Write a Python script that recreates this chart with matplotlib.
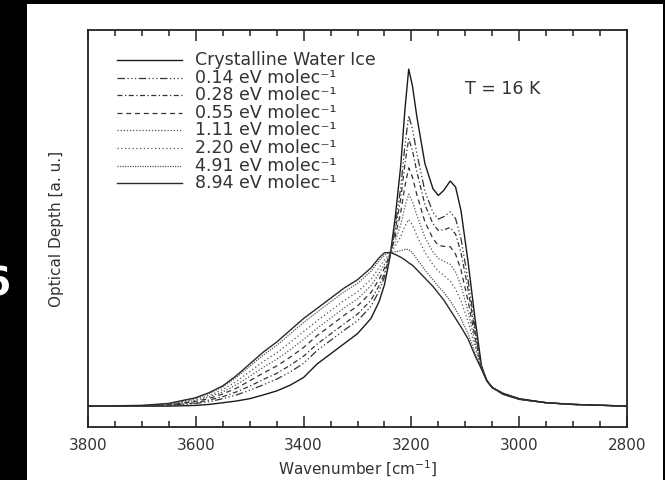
import matplotlib
matplotlib.use("Agg")
import matplotlib.pyplot as plt
from matplotlib.patches import Rectangle
from matplotlib.ticker import MultipleLocator

# wavenumber grid (cm^-1) the curves were read at
wavenumber = [3800, 3700, 3650, 3600, 3575, 3550, 3525, 3500, 3475, 3450, 3425, 3400,
              3375, 3350, 3325, 3300, 3275, 3260, 3250, 3240, 3230, 3220, 3212, 3205,
              3198, 3190, 3175, 3160, 3150, 3140, 3128, 3118, 3108, 3095, 3082, 3070,
              3060, 3050, 3030, 3000, 2950, 2900, 2800]

crystalline = [0.000, 0.000, 0.000, 0.002, 0.005, 0.010, 0.015, 0.022, 0.033, 0.045, 0.062, 0.085,
               0.125, 0.155, 0.185, 0.215, 0.260, 0.310, 0.360, 0.440, 0.560, 0.710, 0.880, 1.000,
               0.950, 0.860, 0.720, 0.645, 0.625, 0.640, 0.668, 0.650, 0.580, 0.430, 0.260, 0.120,
               0.075, 0.055, 0.035, 0.020, 0.010, 0.005, 0.000]
dose_014 = [0.000, 0.000, 0.002, 0.008, 0.013, 0.022, 0.033, 0.047, 0.063, 0.080, 0.101, 0.127,
            0.165, 0.195, 0.225, 0.253, 0.296, 0.341, 0.383, 0.444, 0.534, 0.646, 0.773, 0.862,
            0.822, 0.751, 0.638, 0.575, 0.555, 0.562, 0.576, 0.556, 0.497, 0.375, 0.234, 0.118,
            0.075, 0.055, 0.036, 0.020, 0.010, 0.005, 0.000]
dose_028 = [0.000, 0.001, 0.003, 0.010, 0.018, 0.028, 0.042, 0.059, 0.079, 0.097, 0.121, 0.148,
            0.184, 0.214, 0.244, 0.273, 0.314, 0.357, 0.394, 0.446, 0.520, 0.614, 0.719, 0.793,
            0.758, 0.696, 0.598, 0.541, 0.521, 0.523, 0.530, 0.510, 0.456, 0.347, 0.220, 0.116,
            0.075, 0.055, 0.036, 0.021, 0.010, 0.005, 0.000]
dose_055 = [0.000, 0.001, 0.004, 0.014, 0.023, 0.036, 0.053, 0.075, 0.098, 0.119, 0.145, 0.174,
            0.209, 0.239, 0.269, 0.297, 0.337, 0.376, 0.409, 0.448, 0.504, 0.573, 0.653, 0.707,
            0.679, 0.628, 0.547, 0.497, 0.477, 0.474, 0.473, 0.451, 0.404, 0.313, 0.204, 0.115,
            0.075, 0.055, 0.037, 0.021, 0.010, 0.005, 0.000]
dose_111 = [0.000, 0.001, 0.005, 0.017, 0.028, 0.042, 0.063, 0.088, 0.115, 0.139, 0.167, 0.198,
            0.231, 0.261, 0.291, 0.318, 0.357, 0.394, 0.421, 0.450, 0.489, 0.537, 0.592, 0.629,
            0.607, 0.567, 0.501, 0.458, 0.438, 0.430, 0.421, 0.398, 0.358, 0.282, 0.189, 0.114,
            0.075, 0.055, 0.037, 0.021, 0.010, 0.005, 0.000]
dose_220 = [0.000, 0.002, 0.006, 0.020, 0.032, 0.049, 0.073, 0.102, 0.132, 0.158, 0.189, 0.221,
            0.253, 0.283, 0.313, 0.339, 0.376, 0.411, 0.434, 0.452, 0.475, 0.502, 0.534, 0.554,
            0.537, 0.507, 0.456, 0.420, 0.400, 0.388, 0.371, 0.347, 0.312, 0.252, 0.175, 0.112,
            0.075, 0.055, 0.037, 0.022, 0.010, 0.005, 0.000]
dose_491 = [0.000, 0.002, 0.007, 0.023, 0.038, 0.057, 0.085, 0.118, 0.151, 0.180, 0.214, 0.248,
            0.279, 0.309, 0.339, 0.364, 0.400, 0.431, 0.448, 0.455, 0.458, 0.461, 0.465, 0.465,
            0.455, 0.437, 0.404, 0.375, 0.355, 0.338, 0.312, 0.287, 0.259, 0.216, 0.158, 0.111,
            0.075, 0.055, 0.038, 0.022, 0.010, 0.005, 0.000]
dose_894 = [0.000, 0.002, 0.008, 0.025, 0.040, 0.060, 0.090, 0.125, 0.160, 0.190, 0.225, 0.260,
            0.290, 0.320, 0.350, 0.375, 0.410, 0.440, 0.455, 0.456, 0.450, 0.442, 0.434, 0.425,
            0.418, 0.405, 0.380, 0.355, 0.335, 0.315, 0.285, 0.260, 0.235, 0.200, 0.150, 0.110,
            0.075, 0.055, 0.038, 0.022, 0.010, 0.005, 0.000]

labels = ["Crystalline Water Ice",
          "0.14 eV molec\u207b\u00b9", "0.28 eV molec\u207b\u00b9", "0.55 eV molec\u207b\u00b9",
          "1.11 eV molec\u207b\u00b9", "2.20 eV molec\u207b\u00b9", "4.91 eV molec\u207b\u00b9",
          "8.94 eV molec\u207b\u00b9"]
series = [crystalline, dose_014, dose_028, dose_055, dose_111, dose_220, dose_491, dose_894]
styles = ["-", (0, (6, 2, 1, 2, 1, 2, 1, 2)), (0, (4, 2, 1, 2)), (0, (4, 3)),
          (0, (1, 1.5)), (0, (1, 2)), (0, (1, 1)), "-"]
colors = ["#1a1a1a", "#333333", "#333333", "#333333", "#555555", "#555555", "#555555", "#2a2a2a"]
widths = [1.0, 0.9, 0.9, 0.9, 0.9, 0.9, 0.9, 1.0]

fig = plt.figure(figsize=(6.65, 4.8), dpi=100, facecolor="black")
fig.add_artist(Rectangle((27 / 665, 0), 636 / 665, 476 / 480, transform=fig.transFigure,
                         facecolor="white", edgecolor="none", zorder=-10))
# slide number, cut by the left edge as in the original
fig.text(11 / 665, 1 - 284 / 480, "6", color="white", fontsize=28, fontweight="bold",
         ha="right", va="center")

ax = fig.add_axes([88 / 665, 53 / 480, 539 / 665, 397 / 480])
ax.set_facecolor("white")

for y, ls, c, lw in zip(series, styles, colors, widths):
    ax.plot(wavenumber, y, linestyle=ls, color=c, linewidth=lw)

ax.set_xlim(3800, 2800)
ax.set_ylim(-0.062, 1.116)
ax.set_yticks([])
ax.xaxis.set_major_locator(MultipleLocator(200))
ax.xaxis.set_minor_locator(MultipleLocator(50))
ax.tick_params(axis="x", which="both", direction="in", top=True, bottom=True,
               colors="#222222", labelcolor="#333333", labelsize=11, pad=8)
ax.tick_params(axis="x", which="major", length=8, width=1.1)
ax.tick_params(axis="x", which="minor", length=4, width=1.1)
for s in ax.spines.values():
    s.set_linewidth(1.3)
    s.set_color("#222222")

ax.set_xlabel("Wavenumber [cm$^{-1}$]", fontsize=11, color="#333333")
ax.set_ylabel("Optical Depth [a. u.]", fontsize=11, color="#333333")
ax.xaxis.set_label_coords(0.5, -0.08)
ax.yaxis.set_label_coords(-0.045, 0.5)

# legend drawn by hand so the rows sit where they do in the figure
for i, (lab, ls, c, lw) in enumerate(zip(labels, styles, colors, widths)):
    yy = (427 - (60 + 17.6 * i)) / 397
    ax.plot([0.054, 0.174], [yy, yy], transform=ax.transAxes, linestyle=ls, color=c,
            linewidth=lw)
    ax.text(0.198, yy, lab, transform=ax.transAxes, fontsize=12.5, color="#333333",
            va="center", ha="left")

ax.text(0.70, 0.851, "T = 16 K", transform=ax.transAxes, fontsize=12.5, color="#333333",
        va="center", ha="left")

fig.savefig("out.png", dpi=100, facecolor=fig.get_facecolor())
